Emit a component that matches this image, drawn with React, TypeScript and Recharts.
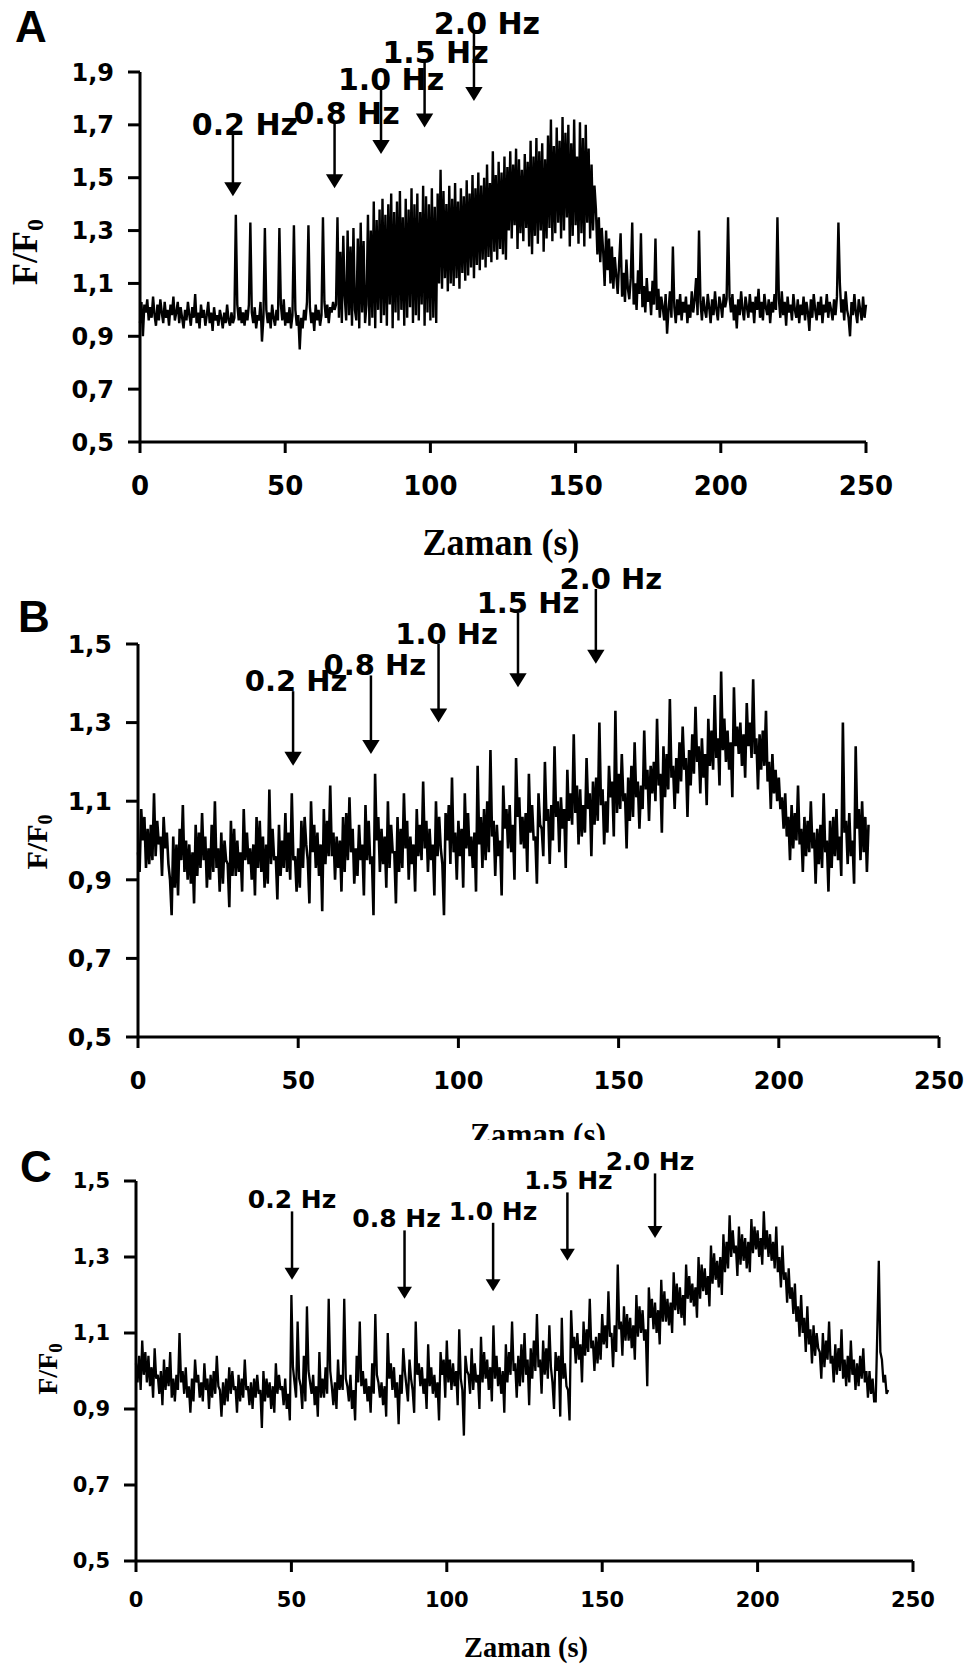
import React from "react";
import { LineChart, Line, XAxis, YAxis, ReferenceLine } from "recharts";

// Panel A, one sample every 0.5 s
const A_STEP = 0.5;
const aBase = [
  0.95, 1.03, 0.9, 1.02, 0.99, 1.04, 0.96, 1.01, 0.97, 1.05,
  0.98, 0.94, 1.02, 0.96, 1.04, 0.99, 0.95, 1.03, 0.97, 1.0,
  0.94, 1.02, 0.98, 1.05, 0.96, 0.99, 1.03, 0.95, 1.01, 0.97,
  0.93, 1.0, 0.96, 1.03, 0.98, 0.94, 1.01, 0.97, 1.06, 0.95,
  0.99, 0.93, 1.02, 0.97, 1.0, 0.94, 0.98, 1.03, 0.95, 0.99,
  0.92, 1.01, 0.96, 0.98, 0.94, 1.0, 0.97, 0.93, 0.99, 0.95,
  1.02, 0.96, 0.94, 0.99, 0.95, 0.97,
];
const aSpikes = [
  1.36, 1.02, 0.96, 1.01, 0.95, 0.99, 0.94, 1.0, 0.96, 1.02,
  1.33, 0.99, 0.95, 1.01, 0.93, 0.98, 0.96, 1.03, 0.88, 0.97,
  1.31, 1.0, 0.95, 0.99, 0.93, 1.02, 0.97, 0.94, 1.0, 0.96,
  1.31, 1.02, 0.96, 1.04, 0.94, 0.99, 0.95, 1.01, 0.93, 0.98,
  1.32, 1.0, 0.94, 0.98, 0.85, 0.97, 0.93, 1.0, 0.96, 1.03,
  1.32, 1.01, 0.95, 0.99, 0.92, 1.02, 0.96, 1.0, 0.94, 0.98,
  1.35, 1.03, 0.97, 1.02, 0.95, 1.01, 0.99, 1.03, 1.0, 1.02,
];
const aRise1 = [
  1.35, 0.97, 1.22, 0.95, 1.28, 1.05, 0.96, 1.3, 0.98, 1.24,
  0.94, 1.31, 1.0, 0.96, 1.27, 0.93, 1.33, 0.99, 1.26, 0.95,
  1.02, 1.36, 0.94, 1.3, 0.97, 1.41, 0.93, 1.34, 1.0, 1.38,
];
const aRise2 = [
  0.95, 1.42, 0.98, 1.36, 0.94, 1.4, 1.02, 1.44, 0.93, 1.37,
  0.99, 1.41, 0.96, 1.45, 1.0, 1.35, 0.94, 1.42, 0.97, 1.38,
  1.01, 1.46, 0.95, 1.4, 0.98, 1.44, 0.96, 1.37, 1.02, 1.47,
  0.94, 1.43, 0.99, 1.4, 0.96, 1.46, 0.97, 1.39, 0.95, 1.44,
];
const aRise3 = [
  1.1, 1.53, 1.08, 1.45, 1.12, 1.4, 1.07, 1.47, 1.1, 1.42,
  1.09, 1.48, 1.12, 1.41, 1.08, 1.46, 1.14, 1.43, 1.11, 1.49,
  1.13, 1.44, 1.16, 1.51, 1.12, 1.46, 1.17, 1.52, 1.15, 1.47,
  1.19, 1.5, 1.16, 1.55, 1.2, 1.48, 1.18, 1.6, 1.22, 1.51,
  1.19, 1.56, 1.23, 1.52,
];
const aPeak = [
  1.21, 1.58, 1.19, 1.54, 1.3, 1.6, 1.27, 1.55, 1.32, 1.61,
  1.23, 1.57, 1.29, 1.53, 1.26, 1.59, 1.31, 1.56, 1.24, 1.64,
  1.21, 1.58, 1.28, 1.65, 1.25, 1.6, 1.3, 1.63, 1.22, 1.57,
  1.27, 1.66, 1.31, 1.72, 1.26, 1.62, 1.29, 1.69, 1.33, 1.64,
  1.27, 1.73, 1.3, 1.67, 1.35, 1.7, 1.24, 1.63, 1.28, 1.72,
  1.32, 1.58, 1.25, 1.71, 1.29, 1.65, 1.24, 1.7, 1.33, 1.61,
  1.27, 1.55, 1.3, 1.47,
];
const aFall = [
  1.38, 1.21, 1.35, 1.18, 1.31, 1.22, 1.09, 1.3, 1.15, 1.27,
  1.1, 1.24, 1.08, 1.2, 1.13, 1.06, 1.18, 1.29, 1.05, 1.14,
  1.03, 1.19, 1.08, 1.04, 1.12, 1.33, 1.02, 1.1, 1.0, 1.15,
  1.06, 1.29, 1.01, 1.09, 0.99, 1.12, 1.03, 1.07, 0.98, 1.11,
  1.02, 1.27, 1.0, 1.08, 0.97, 1.05, 1.01, 0.96, 1.06, 0.91,
];
const aTail = [
  1.0, 1.07, 0.97, 1.24, 1.01, 0.95, 1.04, 0.98, 1.06, 0.96,
  1.03, 0.99, 1.05, 0.95, 1.02, 0.97, 1.07, 0.99, 1.04, 1.12,
  0.98, 1.3, 1.03, 0.96, 1.05, 1.0, 0.97, 1.06, 1.01, 0.95,
  1.04, 0.98, 1.07, 1.0, 0.96, 1.05, 1.02, 0.97, 1.06, 1.01,
  1.04, 1.35, 1.05, 0.99, 1.06, 0.96, 1.02, 0.93, 1.04, 0.98,
  1.07, 1.0, 0.96, 1.05, 1.01, 0.97, 1.06, 0.99, 1.03, 0.95,
  1.05, 1.0, 1.08, 0.97, 1.03, 0.96, 1.06, 1.01, 0.98, 1.04,
  0.95, 1.03, 0.99, 1.06, 1.0, 1.35, 1.04, 0.97, 1.07, 0.98,
  1.03, 0.94, 1.05, 0.99, 1.02, 0.96, 1.06, 1.0, 0.97, 1.04,
  0.95, 1.02, 0.98, 1.05, 0.96, 1.03, 0.99, 0.92, 1.04, 0.97,
  1.06, 1.0, 0.96, 1.03, 0.98, 1.05, 0.95, 1.02, 0.99, 1.06,
  0.97, 1.03, 1.0, 0.96, 1.04, 0.98, 1.05, 1.33, 1.1, 0.99,
  1.04, 0.96, 1.07, 1.0, 0.97, 0.9, 1.03, 0.98, 1.06, 0.99,
  0.95, 1.04, 1.0, 0.96, 1.05, 0.97, 1.02,
];

// Panel B, one sample every 0.5 s
const B_STEP = 0.5;
const bEarly = [
  0.97, 0.92, 1.08, 1.0, 1.06, 0.93, 1.03, 0.94, 1.04, 0.95, 1.12, 0.96, 1.05, 0.99, 1.01, 0.91, 1.06, 0.98, 1.02, 0.94,
  0.9, 0.81, 1.01, 0.88, 0.99, 0.86, 1.03, 0.95, 1.09, 0.92, 1.0, 0.9, 0.99, 0.89, 0.97, 0.84, 1.04, 0.91, 1.02, 0.93,
  1.07, 0.95, 1.01, 0.88, 0.98, 0.9, 1.04, 0.92, 1.1, 0.93, 0.98, 0.87, 1.02, 0.89, 1.0, 0.95, 0.94, 0.83, 1.05, 0.91,
  1.03, 0.91, 1.0, 0.92, 0.97, 0.87, 1.08, 0.95, 1.02, 0.94, 0.98, 0.9, 0.99, 0.86, 1.06, 0.93, 1.05, 0.92, 1.01, 0.88,
  0.99, 0.89, 1.13, 0.94, 1.03, 0.95, 0.96, 0.85, 1.04, 0.91, 1.0, 0.93, 1.07, 0.92, 1.02, 0.9, 1.12, 0.95, 0.96, 0.87,
  0.98, 0.88, 1.05, 0.93, 1.06, 0.99, 0.95, 0.84, 1.1, 0.97, 1.04, 0.93, 1.02, 0.91, 0.99, 0.82, 1.08, 0.94, 1.05, 0.96,
  1.14, 0.96, 1.02, 0.9, 1.01, 0.93, 1.0, 0.87, 1.06, 0.92, 1.07, 0.95, 1.11, 0.97, 1.03, 0.89, 0.98, 0.91, 1.04, 0.95,
  0.99, 0.86, 1.09, 0.95, 1.05, 0.94, 0.96, 0.81, 1.17, 1.0, 1.06, 0.92, 1.03, 0.94, 1.01, 0.88, 1.1, 0.93, 1.04, 0.97,
  0.97, 0.84, 1.06, 0.92, 1.03, 0.93, 1.12, 0.98, 1.05, 0.9, 1.01, 0.94, 0.99, 0.87, 1.08, 0.96, 1.04, 0.95, 1.15, 0.98,
  1.05, 0.92, 1.03, 0.95, 0.99, 0.86, 1.1, 0.96, 1.06, 0.98, 0.94, 0.81, 1.07, 1.0, 1.09, 0.94, 1.16, 0.97, 1.02, 0.9,
];
const bLate = [
  1.05, 0.96, 1.03, 0.88, 1.12, 0.98, 1.07, 0.96, 1.01, 0.93, 1.02, 0.87, 1.19, 0.99, 1.06, 0.93, 1.08, 0.95, 1.1, 0.97,
  1.23, 1.01, 1.05, 0.91, 1.04, 0.96, 1.0, 0.86, 1.14, 1.03, 1.08, 0.98, 1.09, 0.97, 1.04, 0.9, 1.21, 1.06, 1.11, 0.99,
  1.06, 0.98, 1.07, 0.92, 1.17, 1.02, 1.09, 1.0, 1.01, 0.89, 1.12, 1.04, 1.03, 0.96, 1.2, 1.05, 1.08, 0.94, 1.09, 1.0,
  1.24, 1.06, 1.1, 0.97, 1.11, 1.03, 1.08, 0.93, 1.18, 1.05, 1.12, 1.04, 1.27, 1.07, 1.14, 0.99, 1.13, 1.01, 1.09, 1.02,
  1.21, 1.08, 1.12, 0.96, 1.15, 1.04, 1.16, 1.05, 1.3, 1.09, 1.13, 0.99, 1.1, 1.02, 1.19, 1.11, 1.15, 1.01, 1.33, 1.07,
  1.17, 1.08, 1.22, 1.1, 1.12, 0.98, 1.16, 1.05, 1.19, 1.06, 1.25, 1.11, 1.15, 1.03, 1.14, 1.08, 1.28, 1.13, 1.18, 1.05,
  1.19, 1.12, 1.2, 1.1, 1.31, 1.14, 1.17, 1.02, 1.24, 1.11, 1.22, 1.13, 1.36, 1.16, 1.19, 1.08, 1.21, 1.12, 1.25, 1.15,
  1.29, 1.18, 1.21, 1.06, 1.23, 1.14, 1.27, 1.17, 1.34, 1.2, 1.24, 1.12, 1.26, 1.16, 1.22, 1.09, 1.31, 1.19, 1.28, 1.18,
  1.37, 1.21, 1.26, 1.14, 1.43, 1.23, 1.31, 1.2, 1.28, 1.18, 1.25, 1.11, 1.39, 1.24, 1.29, 1.22, 1.3, 1.19, 1.27, 1.16,
  1.35, 1.24, 1.3, 1.21, 1.41, 1.22, 1.26, 1.13, 1.27, 1.18, 1.28, 1.19, 1.33, 1.15, 1.2, 1.08, 1.22, 1.12, 1.18, 1.1,
  1.16, 1.08, 1.11, 1.03, 1.12, 1.01, 1.06, 0.95, 1.09, 0.98, 1.07, 1.0, 1.14, 0.99, 1.03, 0.92, 1.06, 0.96, 1.05, 0.97,
  1.1, 0.98, 1.02, 0.89, 1.03, 0.94, 1.04, 0.93, 1.12, 0.97, 1.0, 0.87, 1.05, 0.93, 1.06, 0.96, 1.08, 0.95, 1.01, 0.91,
  1.3, 1.02, 1.05, 0.94, 1.07, 0.96, 1.0, 0.89, 1.24, 1.03, 1.08, 0.95, 1.1, 0.97, 1.06, 0.92, 1.04,
];

// Panel C, one sample every 0.5 s
const C_STEP = 0.5;
const cEarly = [
  1.02, 0.97, 1.04, 0.95, 1.08, 0.99, 1.05, 0.97, 1.04, 0.96, 1.01, 0.93, 1.06, 0.98, 0.99, 0.94, 1.0, 0.91, 1.03, 0.95,
  1.01, 0.96, 1.05, 0.93, 0.98, 0.92, 0.99, 0.95, 1.1, 0.97, 1.0, 0.94, 1.01, 0.93, 0.96, 0.89, 0.98, 0.92, 1.03, 0.97,
  0.99, 0.93, 0.97, 0.92, 1.02, 0.95, 0.98, 0.9, 0.99, 0.93, 1.0, 0.94, 1.04, 0.96, 0.95, 0.88, 0.97, 0.91, 0.98, 0.92,
  1.01, 0.94, 1.0, 0.95, 0.96, 0.89, 0.99, 0.92, 0.98, 0.93, 1.03, 0.95, 0.96, 0.91, 0.97, 0.9, 0.98, 0.93, 0.99, 0.94,
  0.95, 0.85, 1.0, 0.92, 0.98, 0.93, 0.97, 0.9, 0.96, 0.89, 1.02, 0.94, 0.99, 0.95, 0.96, 0.91, 0.98, 0.9, 0.94, 0.87,
  1.2, 1.01, 0.97, 0.93, 1.13, 0.98, 0.96, 0.9, 1.04, 0.92, 1.17, 1.0, 0.97, 0.94, 0.99, 0.91, 0.96, 0.88, 1.05, 0.93,
  0.98, 0.93, 1.01, 0.94, 1.19, 1.0, 0.96, 0.91, 0.97, 0.9, 1.03, 0.95, 0.99, 0.95, 1.19, 0.98, 0.96, 0.92, 0.99, 0.9,
  0.95, 0.87, 1.04, 0.97, 1.13, 0.96, 1.0, 0.94, 0.98, 0.92, 0.96, 0.89, 1.02, 0.94, 1.15, 0.99, 0.97, 0.93, 0.97, 0.91,
  0.96, 0.88, 1.1, 0.98, 1.02, 0.95, 1.01, 0.93, 0.97, 0.86, 0.99, 0.94, 1.06, 1.0, 0.96, 0.92, 1.03, 0.98, 0.95, 0.89,
  1.13, 0.99, 1.02, 0.96, 1.01, 0.94, 0.98, 0.9, 1.07, 0.96, 1.01, 0.94, 0.99, 0.93, 0.97, 0.87, 1.05, 0.99, 1.03, 0.93,
];
const cLate = [
  1.08, 0.97, 1.03, 0.95, 1.02, 0.96, 1.0, 0.91, 1.11, 0.98, 0.95, 0.83, 1.04, 1.0, 0.99, 0.94, 1.06, 0.95, 1.02, 0.97,
  0.99, 0.9, 1.09, 0.97, 1.05, 0.98, 1.03, 0.95, 1.01, 0.92, 1.12, 0.98, 1.04, 0.96, 1.01, 0.94, 1.0, 0.89, 1.07, 0.97,
  1.05, 0.99, 1.13, 1.0, 1.02, 0.93, 1.04, 0.96, 1.07, 0.97, 1.1, 0.99, 1.03, 0.91, 1.06, 0.98, 1.08, 1.0, 1.15, 1.01,
  1.03, 0.94, 1.08, 0.99, 1.06, 0.98, 1.12, 1.01, 0.97, 0.9, 1.05, 1.0, 1.04, 0.88, 1.14, 0.98, 1.02, 0.96, 0.95, 0.87,
  1.16, 1.06, 1.09, 1.02, 1.1, 1.03, 1.07, 0.97, 1.13, 1.04, 1.11, 1.05, 1.19, 1.06, 1.08, 1.0, 1.09, 1.02, 1.1, 1.03,
  1.15, 1.07, 1.12, 1.06, 1.21, 1.09, 1.1, 1.01, 1.12, 1.05, 1.28, 1.11, 1.13, 1.04, 1.17, 1.08, 1.15, 1.08, 1.14, 1.06,
  1.12, 1.03, 1.2, 1.09, 1.17, 1.1, 1.16, 1.08, 1.11, 0.96, 1.22, 1.14, 1.19, 1.11, 1.18, 1.1, 1.16, 1.07, 1.24, 1.13,
  1.21, 1.13, 1.19, 1.12, 1.18, 1.1, 1.26, 1.16, 1.23, 1.15, 1.22, 1.14, 1.2, 1.12, 1.28, 1.19, 1.25, 1.18, 1.23, 1.17,
  1.22, 1.14, 1.3, 1.19, 1.28, 1.21, 1.27, 1.2, 1.25, 1.17, 1.33, 1.23, 1.31, 1.24, 1.29, 1.22, 1.3, 1.2, 1.36, 1.26,
  1.34, 1.27, 1.41, 1.3, 1.37, 1.31, 1.33, 1.25, 1.38, 1.28, 1.36, 1.29, 1.35, 1.27, 1.34, 1.26, 1.4, 1.31, 1.38, 1.32,
  1.37, 1.3, 1.35, 1.28, 1.42, 1.32, 1.37, 1.3, 1.36, 1.29, 1.34, 1.27, 1.38, 1.26, 1.3, 1.22, 1.33, 1.24, 1.26, 1.18,
  1.27, 1.19, 1.22, 1.15, 1.23, 1.13, 1.17, 1.09, 1.2, 1.1, 1.14, 1.05, 1.17, 1.07, 1.11, 1.02, 1.12, 1.04, 1.1, 1.06,
  1.05, 0.98, 1.1, 1.01, 1.08, 1.03, 1.13, 1.02, 1.04, 0.97, 1.07, 0.99, 1.06, 1.0, 1.11, 0.98, 1.03, 0.96, 1.04, 0.97,
  1.08, 0.99, 1.03, 0.95, 1.02, 0.96, 1.04, 0.98, 1.06, 0.97, 1.0, 0.93, 1.0, 0.94, 0.98, 0.92, 0.92, 1.1, 1.29, 1.05,
  1.03, 0.97, 0.99, 0.94, 0.95,
];

const timeTicks = [0, 50, 100, 150, 200, 250];
const aTicks = [0.5, 0.7, 0.9, 1.1, 1.3, 1.5, 1.7, 1.9];
const bcTicks = [0.5, 0.7, 0.9, 1.1, 1.3, 1.5];

// stimulation arrows: time (s), arrow top and tip (F/F0)
const stimLabels = ["0.2 Hz", "0.8 Hz", "1.0 Hz", "1.5 Hz", "2.0 Hz"];
const aStimTimes = [32, 67, 83, 98, 115];
const aArrowTop = [1.67, 1.71, 1.84, 1.94, 2.05];
const aArrowTip = [1.43, 1.46, 1.59, 1.69, 1.79];
const bStimTimes = [48.4, 72.7, 93.8, 118.6, 142.9];
const bArrowTop = [1.38, 1.42, 1.5, 1.58, 1.64];
const bArrowTip = [1.19, 1.22, 1.3, 1.39, 1.45];
const cStimTimes = [50.2, 86.4, 114.9, 138.8, 167];
const cArrowTop = [1.42, 1.37, 1.39, 1.47, 1.52];
const cArrowTip = [1.24, 1.19, 1.21, 1.29, 1.35];

const toRows = (vals: number[], step: number) => vals.map((v, i) => ({ t: i * step, v }));

const fmt = (v: number) => v.toFixed(1).replace(".", ",");

function Arrow(props: any) {
  const { x1, y1, y2, text, dx, dy, fontSize, head } = props;
  const w = head * 0.62;
  return (
    <g>
      <line x1={x1} y1={y1} x2={x1} y2={y2 - head + 1} stroke="#000" strokeWidth={2.5} />
      <polygon points={`${x1 - w},${y2 - head} ${x1 + w},${y2 - head} ${x1},${y2}`} fill="#000" />
      <text x={x1 + dx} y={y1 + dy} textAnchor="middle" fontFamily="DejaVu Sans" fontWeight="bold" fontSize={fontSize} fill="#000">
        {text}
      </text>
    </g>
  );
}

type PanelCfg = {
  top: number;
  height: number;
  plotTop: number;
  plotBottom: number;
  axisX: number;
  right: number;
  yMax: number;
  yTicks: number[];
  rows: { t: number; v: number }[];
  yFont: number;
  xFont: number;
  xTickMargin: number;
  stimTimes: number[];
  arrowTop: number[];
  arrowTip: number[];
  labelDx: number[];
  labelDy: number;
  labelFont: number;
  head: number;
  lineW: number;
};

const panels: PanelCfg[] = [
  {
    top: 0, height: 600, plotTop: 72, plotBottom: 442, axisX: 140, right: 104,
    yMax: 1.9, yTicks: aTicks,
    rows: toRows([...aBase, ...aSpikes, ...aRise1, ...aRise2, ...aRise3, ...aPeak, ...aFall, ...aTail], A_STEP),
    yFont: 24, xFont: 26, xTickMargin: 24,
    stimTimes: aStimTimes, arrowTop: aArrowTop, arrowTip: aArrowTip,
    labelDx: [12, 12, 10, 11, 13], labelDy: 2, labelFont: 30, head: 14, lineW: 2.4,
  },
  {
    top: 560, height: 600, plotTop: 84, plotBottom: 477, axisX: 138, right: 31,
    yMax: 1.5, yTicks: bcTicks,
    rows: toRows([...bEarly, ...bLate], B_STEP),
    yFont: 25, xFont: 24, xTickMargin: 24,
    stimTimes: bStimTimes, arrowTop: bArrowTop, arrowTip: bArrowTip,
    labelDx: [3, 4, 8, 10, 15], labelDy: 0, labelFont: 29, head: 14, lineW: 2.6,
  },
  {
    top: 1140, height: 528, plotTop: 41, plotBottom: 421, axisX: 136, right: 57,
    yMax: 1.5, yTicks: bcTicks,
    rows: toRows([...cEarly, ...cLate], C_STEP),
    yFont: 21, xFont: 21, xTickMargin: 20,
    stimTimes: cStimTimes, arrowTop: cArrowTop, arrowTip: cArrowTip,
    labelDx: [0, -8, 0, 1, -5], labelDy: -3, labelFont: 25, head: 12, lineW: 2.3,
  },
];

const axisStroke = { stroke: "#000", strokeWidth: 3 };

function Panel({ cfg }: { cfg: PanelCfg }) {
  const xAxisH = 60;
  return (
    <div style={{ position: "absolute", left: 0, top: cfg.top }}>
      <LineChart
        width={970}
        height={cfg.height}
        data={cfg.rows}
        margin={{ top: cfg.plotTop, right: cfg.right, bottom: cfg.height - cfg.plotBottom - xAxisH, left: 0 }}
      >
        <XAxis
          type="number"
          dataKey="t"
          domain={[0, 250]}
          ticks={timeTicks}
          interval={0}
          height={xAxisH}
          tickSize={11}
          tickMargin={cfg.xTickMargin}
          axisLine={axisStroke}
          tickLine={axisStroke}
          tick={{ fill: "#000", fontSize: cfg.xFont, fontFamily: "DejaVu Sans", fontWeight: "bold" }}
        />
        <YAxis
          type="number"
          domain={[0.5, cfg.yMax]}
          ticks={cfg.yTicks}
          interval={0}
          width={cfg.axisX}
          tickSize={12}
          tickMargin={14}
          tickFormatter={fmt}
          axisLine={axisStroke}
          tickLine={axisStroke}
          tick={{ fill: "#000", fontSize: cfg.yFont, fontFamily: "DejaVu Sans", fontWeight: "bold" }}
        />
        <Line type="linear" dataKey="v" stroke="#000" strokeWidth={cfg.lineW} strokeLinejoin="miter" dot={false} isAnimationActive={false} />
        {cfg.stimTimes.map((t, i) => (
          <ReferenceLine
            key={i}
            ifOverflow="visible"
            segment={[{ x: t, y: cfg.arrowTop[i] }, { x: t, y: cfg.arrowTip[i] }]}
            shape={(p: any) => (
              <Arrow
                x1={p.x1}
                y1={p.y1}
                y2={p.y2}
                text={stimLabels[i]}
                dx={cfg.labelDx[i]}
                dy={cfg.labelDy}
                fontSize={cfg.labelFont}
                head={cfg.head}
              />
            )}
          />
        ))}
      </LineChart>
    </div>
  );
}

const serif = "Liberation Serif";
const sans = "Liberation Sans";

export default function App() {
  return (
    <div style={{ position: "absolute", left: 0, top: 0, width: 970, height: 1668, background: "#fff" }}>
      {panels.map((p, i) => (
        <Panel key={i} cfg={p} />
      ))}
      <svg width={970} height={1668} style={{ position: "absolute", left: 0, top: 0, pointerEvents: "none" }}>
        <text x={15} y={42} fontFamily={sans} fontWeight="bold" fontSize={44}>A</text>
        <text x={18} y={632} fontFamily={sans} fontWeight="bold" fontSize={44}>B</text>
        <text x={20} y={1182} fontFamily={sans} fontWeight="bold" fontSize={44}>C</text>

        <text transform="translate(37,252) rotate(-90)" textAnchor="middle" fontFamily={serif} fontWeight="bold" fontSize={36}>
          F/F<tspan dy={6} fontSize={24}>0</tspan>
        </text>
        <text transform="translate(47,842) rotate(-90)" textAnchor="middle" fontFamily={serif} fontWeight="bold" fontSize={30}>
          F/F<tspan dy={5} fontSize={20}>0</tspan>
        </text>
        <text transform="translate(57,1369) rotate(-90)" textAnchor="middle" fontFamily={serif} fontWeight="bold" fontSize={28}>
          F/F<tspan dy={5} fontSize={19}>0</tspan>
        </text>

        <text x={501} y={555} textAnchor="middle" fontFamily={serif} fontWeight="bold" fontSize={38} textLength={157} lengthAdjust="spacingAndGlyphs">
          Zaman (s)
        </text>
        <svg x={0} y={0} width={970} height={1140}>
          <text x={538} y={1146} textAnchor="middle" fontFamily={serif} fontWeight="bold" fontSize={33} textLength={136} lengthAdjust="spacingAndGlyphs">
            Zaman (s)
          </text>
        </svg>
        <text x={526} y={1657} textAnchor="middle" fontFamily={serif} fontWeight="bold" fontSize={30} textLength={124} lengthAdjust="spacingAndGlyphs">
          Zaman (s)
        </text>
      </svg>
    </div>
  );
}
